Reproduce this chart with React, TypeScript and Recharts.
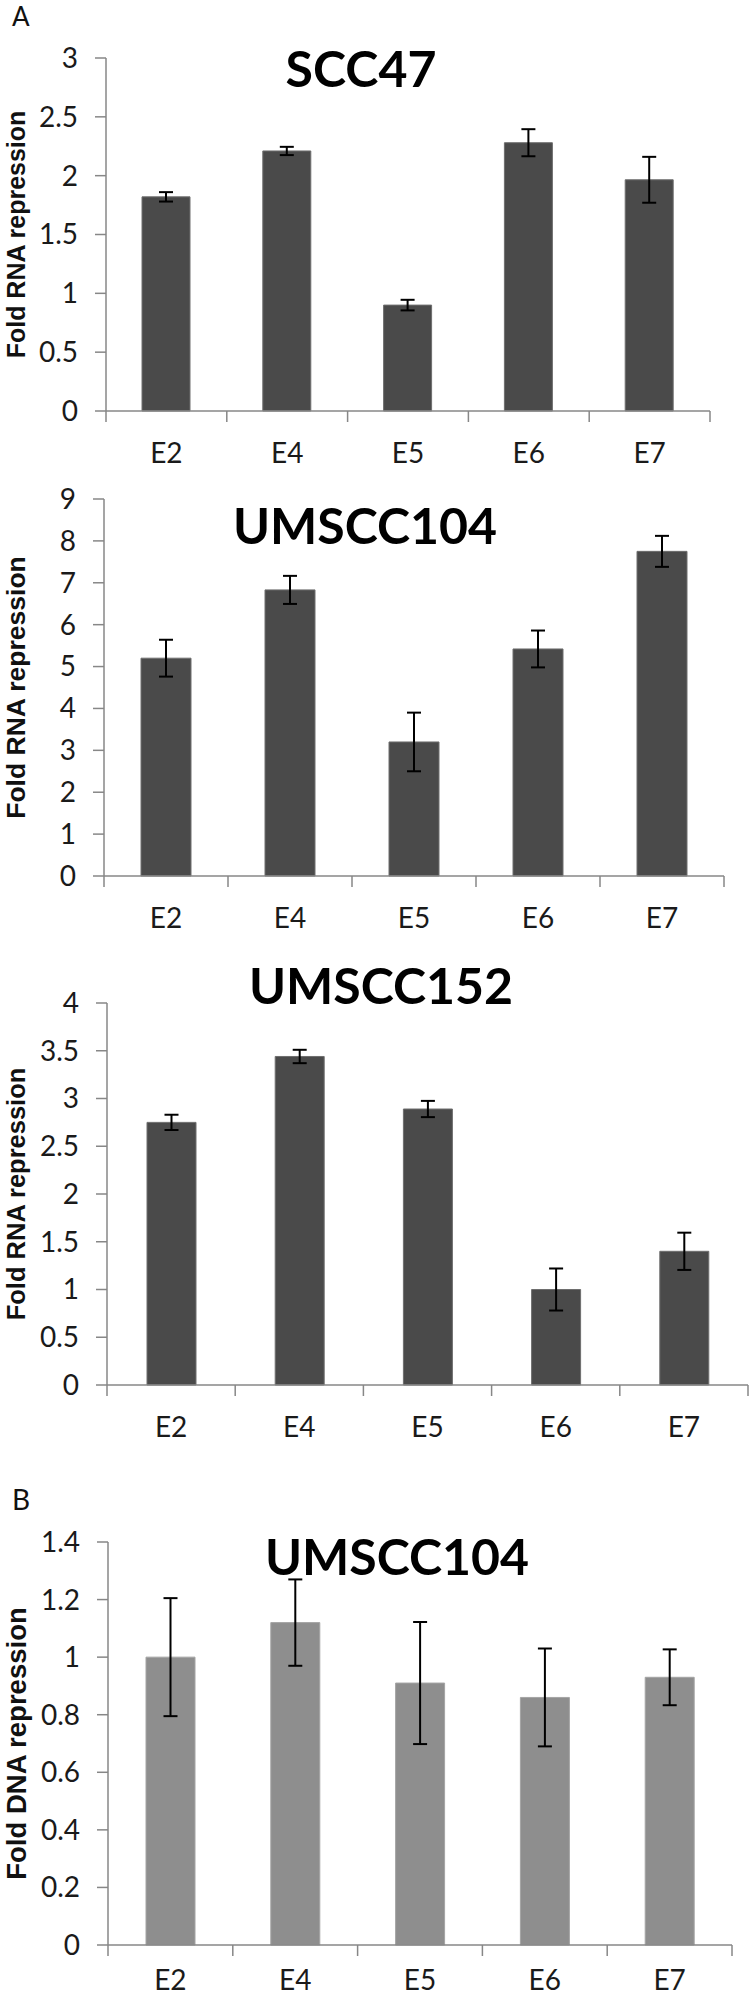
import { BarChart, Bar, XAxis, YAxis, ErrorBar } from 'recharts'

const CATEGORIES = ['E2', 'E4', 'E5', 'E6', 'E7']

// A: SCC47 (RNA)
const SCC47_VALUES = [1.82, 2.21, 0.9, 2.28, 1.965]
const SCC47_ERRORS = [0.04, 0.035, 0.045, 0.115, 0.195]
const SCC47_TICKS = [0, 0.5, 1, 1.5, 2, 2.5, 3]

// A: UMSCC104 (RNA)
const UMSCC104_RNA_VALUES = [5.2, 6.83, 3.2, 5.42, 7.75]
const UMSCC104_RNA_ERRORS = [0.44, 0.335, 0.7, 0.44, 0.37]
const UMSCC104_RNA_TICKS = [0, 1, 2, 3, 4, 5, 6, 7, 8, 9]

// A: UMSCC152 (RNA)
const UMSCC152_VALUES = [2.75, 3.44, 2.89, 1.0, 1.4]
const UMSCC152_ERRORS = [0.08, 0.07, 0.085, 0.22, 0.195]
const UMSCC152_TICKS = [0, 0.5, 1, 1.5, 2, 2.5, 3, 3.5, 4]

// B: UMSCC104 (DNA)
const UMSCC104_DNA_VALUES = [1.0, 1.12, 0.91, 0.86, 0.93]
const UMSCC104_DNA_ERRORS = [0.205, 0.15, 0.212, 0.17, 0.097]
const UMSCC104_DNA_TICKS = [0, 0.2, 0.4, 0.6, 0.8, 1, 1.2, 1.4]

const AXIS_COLOR = '#878787'
const TICK_FONT = 'Lato, "Open Sans", sans-serif'
const LABEL_FONT = '"Liberation Sans", Arial, sans-serif'
const TICK_LEN = 11
const MARGIN_TOP = 24
const X_AXIS_HEIGHT = 62

interface PanelProps {
  title: string
  yLabel: string
  values: number[]
  errors: number[]
  ticks: number[]
  plotTop: number
  plotBottom: number
  axisLeft: number
  axisRight: number
  barSize: number
  fill: string
  stroke: string
  titleX: number
  titleY: number
  yLabelSize: number
  catLabelGap?: number
}

function makeCategoryTick(fallbackHalf: number, gap: number) {
  return function CategoryTick(props: any) {
    const { x, y, payload, index } = props
    const half = payload && typeof payload.offset === 'number' && payload.offset > 0 ? payload.offset : fallbackHalf
    const axisY = y - TICK_LEN
    const last = index === CATEGORIES.length - 1
    return (
      <g>
        <line x1={x - half} x2={x - half} y1={axisY} y2={axisY + TICK_LEN} stroke={AXIS_COLOR} strokeWidth={1.5} />
        {last && <line x1={x + half} x2={x + half} y1={axisY} y2={axisY + TICK_LEN} stroke={AXIS_COLOR} strokeWidth={1.5} />}
        <text x={x} y={axisY + gap} textAnchor="middle" dominantBaseline="central" fontSize={28} fontFamily={TICK_FONT} fill="#1a1a1a">
          {payload.value}
        </text>
      </g>
    )
  }
}

function Panel(p: PanelProps) {
  const data = CATEGORIES.map((name, i) => ({ name, value: p.values[i], err: p.errors[i] }))
  const plotHeight = p.plotBottom - p.plotTop
  const height = plotHeight + MARGIN_TOP + X_AXIS_HEIGHT
  const yMax = p.ticks[p.ticks.length - 1]
  const labelCy = MARGIN_TOP + plotHeight / 2
  const fallbackHalf = (p.axisRight - p.axisLeft) / CATEGORIES.length / 2

  return (
    <>
      <div style={{ position: 'absolute', left: 0, top: p.plotTop - MARGIN_TOP }}>
        <BarChart
          width={750}
          height={height}
          data={data}
          margin={{ top: MARGIN_TOP, right: 750 - p.axisRight, bottom: 0, left: 0 }}
        >
          <XAxis
            dataKey="name"
            height={X_AXIS_HEIGHT}
            interval={0}
            axisLine={{ stroke: AXIS_COLOR, strokeWidth: 1.5 }}
            tickLine={false}
            tickSize={TICK_LEN}
            tickMargin={0}
            tick={makeCategoryTick(fallbackHalf, p.catLabelGap ?? 41)}
          />
          <YAxis
            width={p.axisLeft}
            domain={[0, yMax]}
            ticks={p.ticks}
            interval={0}
            axisLine={{ stroke: AXIS_COLOR, strokeWidth: 1.5 }}
            tickLine={{ stroke: AXIS_COLOR, strokeWidth: 1.5 }}
            tickSize={TICK_LEN}
            tickMargin={17}
            tick={{ fontSize: 28, fontFamily: TICK_FONT, fill: '#1a1a1a' }}
            label={() => (
              <text
                x={16}
                y={labelCy}
                transform={`rotate(-90, 16, ${labelCy})`}
                textAnchor="middle"
                dominantBaseline="central"
                fontSize={p.yLabelSize}
                fontWeight="bold"
                fontFamily={LABEL_FONT}
                fill="#111"
              >
                {p.yLabel}
              </text>
            )}
          />
          <Bar dataKey="value" fill={p.fill} stroke={p.stroke} strokeWidth={1} barSize={p.barSize} isAnimationActive={false}>
            <ErrorBar dataKey="err" direction="y" width={7} strokeWidth={2} stroke="#000" />
          </Bar>
        </BarChart>
      </div>
      <div
        style={{
          position: 'absolute',
          left: p.titleX,
          top: p.titleY,
          transform: 'translate(-50%, -50%)',
          fontFamily: TICK_FONT,
          fontWeight: 700,
          fontSize: 50,
          lineHeight: 1,
          color: '#000',
          whiteSpace: 'nowrap',
        }}
      >
        {p.title}
      </div>
    </>
  )
}

const letterStyle = {
  position: 'absolute' as const,
  left: 12,
  fontFamily: TICK_FONT,
  fontSize: 26,
  lineHeight: 1,
  color: '#111',
}

export default function App() {
  return (
    <div style={{ position: 'absolute', left: 0, top: 0, width: 750, height: 1997, overflow: 'hidden', background: '#fff' }}>
      <div style={{ ...letterStyle, top: 3 }}>A</div>
      <Panel
        title="SCC47"
        yLabel="Fold RNA repression"
        values={SCC47_VALUES}
        errors={SCC47_ERRORS}
        ticks={SCC47_TICKS}
        plotTop={58}
        plotBottom={411}
        axisLeft={106}
        axisRight={710}
        barSize={48}
        fill="#4a4a4a"
        stroke="#6e6e6e"
        titleX={361}
        titleY={68}
        yLabelSize={25}
      />
      <Panel
        title="UMSCC104"
        yLabel="Fold RNA repression"
        values={UMSCC104_RNA_VALUES}
        errors={UMSCC104_RNA_ERRORS}
        ticks={UMSCC104_RNA_TICKS}
        plotTop={499}
        plotBottom={876}
        axisLeft={104}
        axisRight={724}
        barSize={50}
        fill="#4a4a4a"
        stroke="#6e6e6e"
        titleX={365}
        titleY={525}
        yLabelSize={26.5}
      />
      <Panel
        title="UMSCC152"
        yLabel="Fold RNA repression"
        values={UMSCC152_VALUES}
        errors={UMSCC152_ERRORS}
        ticks={UMSCC152_TICKS}
        plotTop={1003}
        plotBottom={1385}
        axisLeft={107}
        axisRight={748}
        barSize={49}
        fill="#4a4a4a"
        stroke="#6e6e6e"
        titleX={381}
        titleY={985}
        yLabelSize={25.5}
      />
      <div style={{ ...letterStyle, top: 1485, fontSize: 28 }}>B</div>
      <Panel
        title="UMSCC104"
        yLabel="Fold DNA repression"
        values={UMSCC104_DNA_VALUES}
        errors={UMSCC104_DNA_ERRORS}
        ticks={UMSCC104_DNA_TICKS}
        plotTop={1542}
        plotBottom={1945}
        axisLeft={108}
        axisRight={732}
        barSize={49}
        fill="#8e8e8e"
        stroke="#a4a4a4"
        titleX={397}
        titleY={1556}
        yLabelSize={27.5}
        catLabelGap={34}
      />
    </div>
  )
}
